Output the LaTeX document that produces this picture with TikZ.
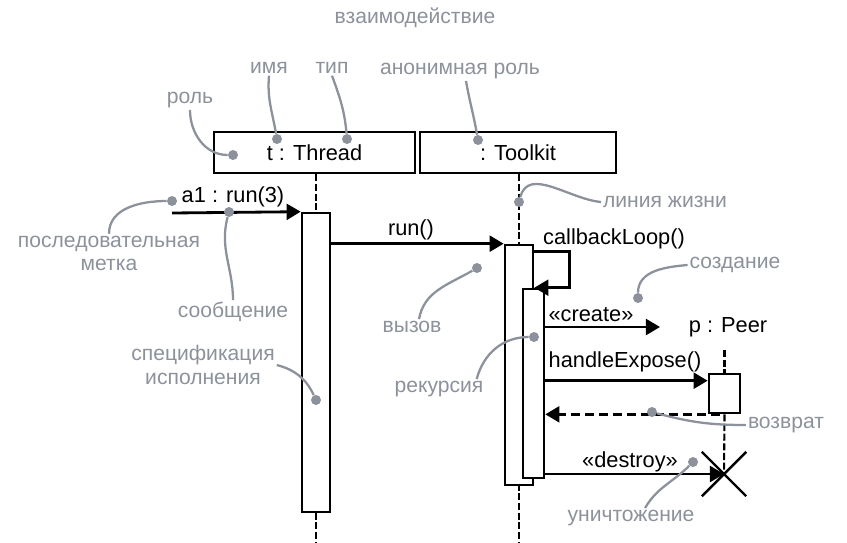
\documentclass[tikz,border=0pt]{standalone}
\usepackage{fontspec}
\setmainfont{Liberation Sans}
\usetikzlibrary{arrows.meta,shapes.misc}
\definecolor{notegray}{HTML}{8C919C}
\newcommand\pxu{0.02cm}

\begin{document}
\begin{tikzpicture}[
  x=0.02cm, y=-0.02cm,
  txt/.style={font=\fontsize{12.4}{13.5}\selectfont, inner sep=1pt},
  note/.style={txt, font=\fontsize{12}{13.5}\selectfont, text=notegray, align=center},
  role/.style={txt, draw, line width=1.5pt, minimum height=41*\pxu},
  act/.style={draw, fill=white, line width=1.5pt, minimum width=28*\pxu, inner sep=0pt},
  msg/.style={line width=1.6pt, -{Triangle[length=8pt,width=9pt]}},
  ret/.style={msg, dash pattern=on 5pt off 3pt},
  life/.style={line width=1.2pt, dash pattern=on 4pt off 1.5pt},
  lead/.style={draw=notegray, line width=1.3pt},
  dot/.style={circle, fill=notegray, inner sep=0pt, minimum size=10*\pxu}
]
\useasboundingbox (0,0) rectangle (847,542);

% roles
\node[role, minimum width=201*\pxu] (thread) at (314.5,152.5) {t : Thread};
\node[role, minimum width=196*\pxu] (toolkit) at (518,152.5) {: Toolkit};
\node[txt] (peer) at (728,327) {p : Peer};

\coordinate (thrEnd) at (316,542);
\coordinate (tkEnd) at (519,542);
\coordinate (peerTop) at (724.5,350);

% lifelines
\draw[life] (thread.south -| thrEnd) -- (thrEnd);
\draw[life] (toolkit.south -| tkEnd) -- (tkEnd);

% executions
\node[act, minimum height=299*\pxu] (thrAct) at (316,362.5) {};
\node[act, minimum height=240*\pxu] (tkAct) at (519,365) {};
\node[act, minimum width=21*\pxu, minimum height=189*\pxu] (tkIn) at (533.5,383.5) {};
\node[act, minimum width=31*\pxu, minimum height=39*\pxu] (peerAct) at (724.5,393.5) {};
\node[cross out, draw, line width=1.4pt, minimum size=42*\pxu, inner sep=0pt] (kill) at (724,474) {};
\draw[life] (peerTop) -- (peerAct.north);
\draw[life] (peerAct.south) -- (kill.center);

% messages
\coordinate (a1Start) at (172,213);
\draw[msg] (a1Start) -- (thrAct.north west);
\node[txt] (a1L) at (233,197) {a1 : run(3)};

\draw[msg] (thrAct.east |- tkAct.north) -- (tkAct.north west);
\node[txt] (runL) at (411,230) {run()};

\draw[msg] ([yshift=-4.5pt]tkAct.north east) -| ([xshift=20pt]tkAct.east |- tkIn.north) -- (tkAct.east |- tkIn.north);
\node[txt] (loopL) at (614,239) {callbackLoop()};

\coordinate (createEnd) at (660,327);
\draw[msg] (tkIn.east |- createEnd) -- (createEnd);
\node[txt] (createM) at (591,315) {«create»};

\path (peerAct.north west) ++(0,8) coordinate (hdlEnd);
\draw[msg] (tkIn.east |- hdlEnd) -- (hdlEnd);
\node[txt] (hdlL) at (625,362) {handleExpose()};

\draw[ret] ([xshift=-2.5pt]peerAct.south) -- (tkIn.east |- peerAct.south);

\draw[msg] (tkIn.east |- kill) -- (kill.center);
\node[txt] (killM) at (630,462) {«destroy»};

% notes
\node[note] (titleL) at (415,18) {взаимодействие};
\node[note] (imaL) at (269,68) {имя};
\node[note] (tipL) at (332,68) {тип};
\node[note] (anonL) at (460,71) {анонимная роль};
\node[note] (roleL) at (190,100) {роль};
\node[note] (seqL) at (109,253.5) {последовательная\\метка};
\node[note] (msgL) at (233,312) {сообщение};
\node[note] (specL) at (203,365) {спецификация\\исполнения};
\node[note] (lifeL) at (665,202) {линия жизни};
\node[note] (callL) at (412,327) {вызов};
\node[note] (recL) at (439,389) {рекурсия};
\node[note] (createL) at (735,265) {создание};
\node[note] (retL) at (786,425) {возврат};
\node[note] (killL) at (631,518) {уничтожение};

\node[dot] (imaD) at (277,139) {};
\node[dot] (tipD) at (347,139) {};
\node[dot] (anonD) at (478,140) {};
\node[dot] (roleD) at (233,155) {};
\node[dot] (seqD) at (172,201) {};
\node[dot] (msgD) at (229,212) {};
\node[dot] (specD) at (316,400) {};
\node[dot] (lifeD) at (519,202) {};
\node[dot] (callD) at (477,268) {};
\node[dot] (recD) at (534,337) {};
\node[dot] (createD) at (638,298) {};
\node[dot] (retD) at (652,412) {};
\node[dot] (killD) at (693,462) {};

\draw[lead] (imaL.south) to[out=-95,in=100] (imaD);
\draw[lead] (tipL.south) to[out=-70,in=95] (tipD);
\draw[lead] (anonL.south) ++(6,0) to[out=-80,in=100] (anonD);
\draw[lead] (roleL.south) to[out=-90,in=180] (roleD);
\draw[lead] (seqD) to[out=180,in=90] (seqL.north);
\draw[lead] (msgD) to[out=-105,in=90] (msgL.north);
\draw[lead] (specL.east) to[out=-15,in=115] (specD);
\draw[lead] (lifeD) to[out=75,in=175] (lifeL.west);
\draw[lead] ([xshift=4pt]callL.north) to[out=80,in=210] (callD);
\draw[lead] ([xshift=-5pt]recL.north east) to[out=75,in=180] (recD);
\draw[lead] (createD) to[out=90,in=185] (createL.west);
\draw[lead] (retD) to[out=-15,in=180] (retL.west);
\draw[lead] ([xshift=8pt]killL.north) to[out=60,in=225] (killD);
\end{tikzpicture}
\end{document}
